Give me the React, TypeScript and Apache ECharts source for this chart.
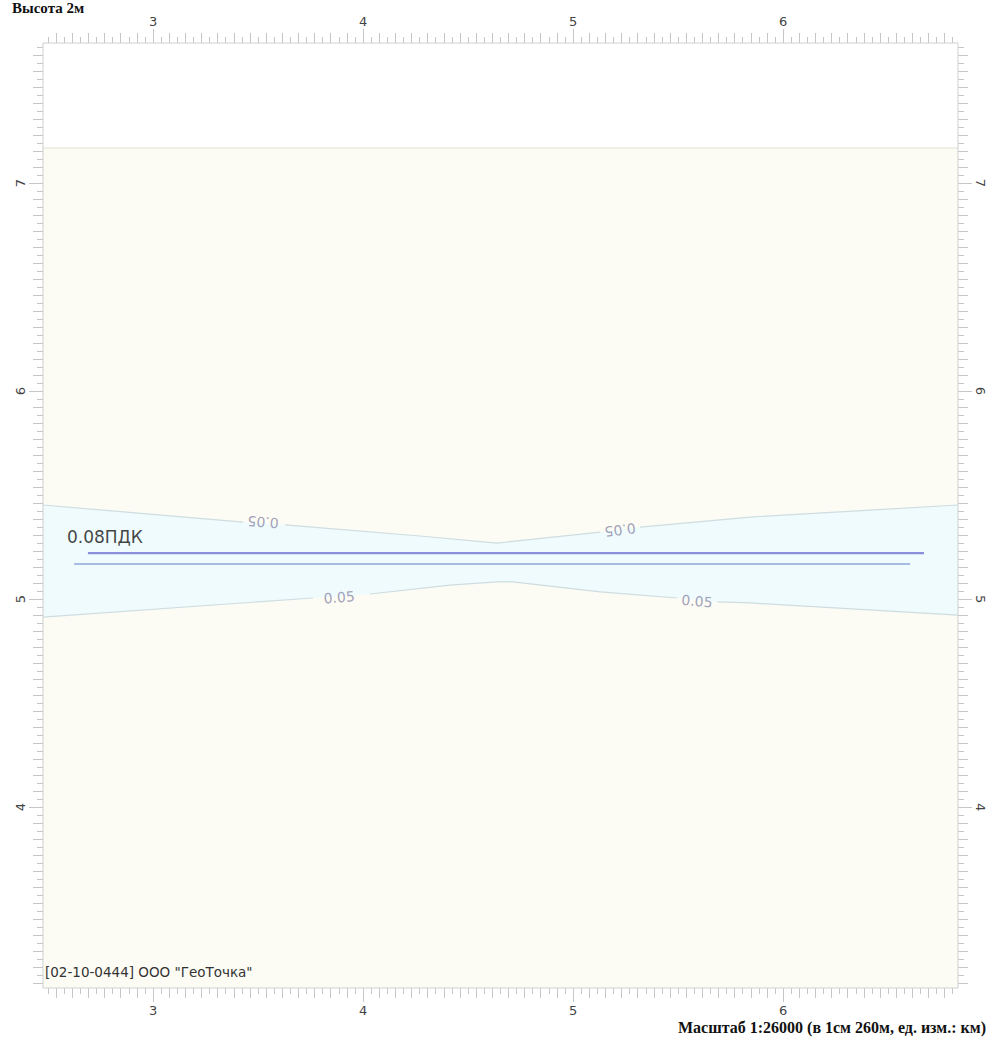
import React, { useEffect, useRef } from 'react';
import * as echarts from 'echarts';

// ---- axis ranges and tick labels (km) ----
const xRange = [2.476, 6.833];
const yRange = [3.13, 7.673];
const xLabels = [3, 4, 5, 6];
const yLabels = [4, 5, 6, 7];
const minorStep = 1 / 26;

// ---- calculation area (cream rectangle) ----
const calcAreaX = [2.476, 6.833];
const calcAreaY = [3.13, 7.168];

// ---- 0.05 contour, upper branch ----
const upperContourX = [2.476, 3.429, 3.629, 4.271, 4.638, 4.686, 5.129, 5.319, 5.843, 6.833];
const upperContourY = [5.452, 5.370, 5.356, 5.303, 5.269, 5.274, 5.322, 5.346, 5.394, 5.452];
const upperContourGaps = [1, 6];

// ---- 0.05 contour, lower branch ----
const lowerContourX = [2.476, 3.762, 4.033, 4.414, 4.638, 4.714, 5.129, 5.495, 5.686, 5.843, 6.833];
const lowerContourY = [4.913, 5.005, 5.024, 5.067, 5.082, 5.082, 5.034, 5.005, 4.986, 4.981, 4.923];
const lowerContourGaps = [1, 7];

// ---- contour labels ----
const contourLabelX = [3.524, 5.224, 3.886, 5.590];
const contourLabelY = [5.370, 5.332, 5.008, 4.990];
const contourLabelText = ['0.05', '0.05', '0.05', '0.05'];
const contourLabelAngle = [176, -173, 4, -5];

// ---- source lines ----
const sourceUpperX = [2.690, 6.671];
const sourceUpperY = [5.221, 5.221];
const sourceLowerX = [2.624, 6.605];
const sourceLowerY = [5.168, 5.168];

// ---- 0.08ПДК label ----
const pdkLabelX = [2.59];
const pdkLabelY = [5.298];
const pdkLabelText = ['0.08ПДК'];

const titleText = 'Высота 2м';
const scaleText = 'Масштаб 1:26000 (в 1см 260м, ед. изм.: км)';
const orgText = '[02-10-0444] ООО "ГеоТочка"';

function minorTicks(lo: number, hi: number, anchor: number, parity: number) {
  const out: number[] = [];
  const k0 = Math.ceil((lo - anchor) / minorStep);
  const k1 = Math.floor((hi - anchor) / minorStep);
  for (let k = k0; k <= k1; k++) {
    if (Math.abs(k % 2) === parity) out.push(+(anchor + k * minorStep).toFixed(5));
  }
  return out;
}

function splitSegments(xs: number[], ys: number[], gaps: number[]) {
  const segs: number[][][] = [];
  let cur: number[][] = [];
  for (let i = 0; i < xs.length; i++) {
    cur.push([xs[i], ys[i]]);
    if (gaps.indexOf(i) >= 0) {
      segs.push(cur);
      cur = [];
    }
  }
  if (cur.length) segs.push(cur);
  return segs;
}

const tickColor = '#c6c6c6';
const labelStyle = { color: '#444444', fontSize: 13, fontFamily: 'DejaVu Sans' };

function xAxisDef(position: string, ticks: number[], length: number, labels: number[] | null) {
  return {
    type: 'value',
    position,
    min: xRange[0],
    max: xRange[1],
    axisLine: { show: false },
    splitLine: { show: false },
    axisTick: { show: true, inside: false, length, customValues: ticks, lineStyle: { color: tickColor, width: 1 } },
    axisLabel: labels
      ? { show: true, customValues: labels, margin: position === 'top' ? 15 : 16, ...labelStyle }
      : { show: false },
  };
}

function yAxisDef(position: string, ticks: number[], length: number, labels: number[] | null) {
  return {
    type: 'value',
    position,
    min: yRange[0],
    max: yRange[1],
    axisLine: { show: false },
    splitLine: { show: false },
    axisTick: { show: true, inside: false, length, customValues: ticks, lineStyle: { color: tickColor, width: 1 } },
    axisLabel: labels
      ? { show: true, customValues: labels, margin: 16, rotate: position === 'left' ? 90 : -90, ...labelStyle }
      : { show: false },
  };
}

export default function App() {
  const ref = useRef<HTMLDivElement>(null);

  useEffect(() => {
    if (!ref.current) return;
    const chart = echarts.init(ref.current, undefined, { renderer: 'svg' });

    const xLong = minorTicks(xRange[0], xRange[1], xLabels[0], 0);
    const xShort = minorTicks(xRange[0], xRange[1], xLabels[0], 1);
    const yLong = minorTicks(yRange[0], yRange[1], yLabels[0], 0);
    const yShort = minorTicks(yRange[0], yRange[1], yLabels[0], 1);

    const contourSegs = [
      ...splitSegments(upperContourX, upperContourY, upperContourGaps),
      ...splitSegments(lowerContourX, lowerContourY, lowerContourGaps),
    ];

    const option: any = {
      animation: false,
      backgroundColor: '#ffffff',
      grid: { left: 43, top: 43, right: 30, bottom: 49, show: false, containLabel: false },
      xAxis: [
        xAxisDef('top', xLabels, 14, xLabels),
        xAxisDef('bottom', xLabels, 14, xLabels),
        xAxisDef('top', xLong, 10, null),
        xAxisDef('top', xShort, 6, null),
        xAxisDef('bottom', xLong, 10, null),
        xAxisDef('bottom', xShort, 6, null),
      ],
      yAxis: [
        yAxisDef('left', yLabels, 14, yLabels),
        yAxisDef('right', yLabels, 14, yLabels),
        yAxisDef('left', yLong, 10, null),
        yAxisDef('left', yShort, 6, null),
        yAxisDef('right', yLong, 10, null),
        yAxisDef('right', yShort, 6, null),
      ],
      graphic: [
        {
          type: 'text',
          left: 12,
          top: 0,
          style: { text: titleText, font: 'bold 15px "Liberation Serif"', fill: '#111' },
        },
        {
          type: 'text',
          right: 2,
          top: 1019,
          style: { text: scaleText, font: 'bold 16px "Liberation Serif"', fill: '#111' },
        },
        {
          type: 'text',
          left: 45,
          top: 965,
          style: { text: orgText, font: '13.5px "DejaVu Sans"', fill: '#333333' },
          z: 100,
        },
      ],
      series: [
        {
          type: 'custom',
          z: 1,
          silent: true,
          data: [[calcAreaX[0], calcAreaY[0]]],
          renderItem: (_p: any, api: any) => {
            const a = api.coord([calcAreaX[0], calcAreaY[1]]);
            const b = api.coord([calcAreaX[1], calcAreaY[0]]);
            return {
              type: 'group',
              children: [
                { type: 'rect', shape: { x: a[0], y: a[1], width: b[0] - a[0], height: b[1] - a[1] }, style: { fill: '#fcfcf5' } },
                { type: 'line', shape: { x1: a[0], y1: a[1], x2: b[0], y2: a[1] }, style: { stroke: '#e2e2d4', lineWidth: 1 } },
              ],
            };
          },
        },
        {
          type: 'custom',
          z: 2,
          silent: true,
          data: [[upperContourX[0], upperContourY[0]]],
          renderItem: (_p: any, api: any) => {
            const pts: number[][] = [];
            for (let i = 0; i < upperContourX.length; i++) pts.push(api.coord([upperContourX[i], upperContourY[i]]));
            for (let i = lowerContourX.length - 1; i >= 0; i--) pts.push(api.coord([lowerContourX[i], lowerContourY[i]]));
            return { type: 'polygon', shape: { points: pts }, style: { fill: '#effbfd' } };
          },
        },
        ...contourSegs.map((seg) => ({
          type: 'line',
          z: 3,
          silent: true,
          symbol: 'none',
          data: seg,
          lineStyle: { color: '#cddde0', width: 1.2 },
        })),
        {
          type: 'line',
          z: 4,
          symbol: 'none',
          silent: true,
          data: sourceUpperX.map((x, i) => [x, sourceUpperY[i]]),
          lineStyle: { color: '#8a8fdb', width: 2.2 },
        },
        {
          type: 'line',
          z: 4,
          symbol: 'none',
          silent: true,
          data: sourceLowerX.map((x, i) => [x, sourceLowerY[i]]),
          lineStyle: { color: '#8ea7da', width: 1.6 },
        },
        {
          type: 'scatter',
          z: 5,
          silent: true,
          symbolSize: 0,
          data: contourLabelX.map((x, i) => ({
            value: [x, contourLabelY[i]],
            label: {
              show: true,
              position: 'inside',
              formatter: contourLabelText[i],
              rotate: contourLabelAngle[i],
              color: '#8b89a8',
              fontSize: 14,
              fontFamily: 'DejaVu Sans',
            },
          })),
        },
        {
          type: 'scatter',
          z: 5,
          silent: true,
          symbolSize: 0,
          data: pdkLabelX.map((x, i) => ({
            value: [x, pdkLabelY[i]],
            label: {
              show: true,
              position: 'right',
              distance: 0,
              formatter: pdkLabelText[i],
              color: '#111111',
              fontSize: 17,
              fontFamily: 'DejaVu Sans',
            },
          })),
        },
        {
          type: 'custom',
          z: 6,
          silent: true,
          data: [[xRange[0], yRange[0]]],
          renderItem: (_p: any, api: any) => {
            const a = api.coord([xRange[0], yRange[1]]);
            const b = api.coord([xRange[1], yRange[0]]);
            return {
              type: 'rect',
              shape: { x: a[0], y: a[1], width: b[0] - a[0], height: b[1] - a[1] },
              style: { fill: 'none', stroke: '#cfcfcf', lineWidth: 1 },
            };
          },
        },
      ],
    };

    chart.setOption(option);
    return () => chart.dispose();
  }, []);

  return (
    <div
      ref={ref}
      style={{ position: 'fixed', left: 0, top: 0, width: 988, height: 1037, background: '#fff' }}
    />
  );
}
